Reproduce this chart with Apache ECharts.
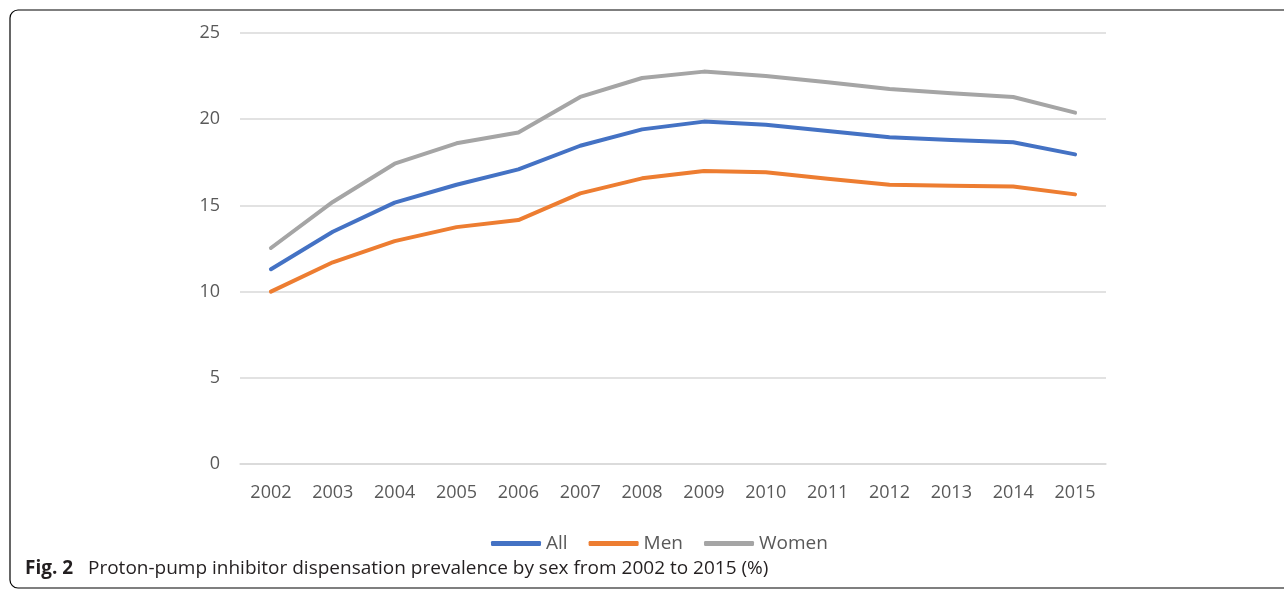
<!DOCTYPE html>
<html><head><meta charset="utf-8">
<script src="https://cdn.jsdelivr.net/npm/echarts@6/dist/echarts.min.js"></script>
<style>html,body{margin:0;padding:0;background:#fff;}#c{width:1284px;height:590px;}</style>
</head><body><div id="c"></div>
<script>
const years = ['2002','2003','2004','2005','2006','2007','2008','2009','2010','2011','2012','2013','2014','2015'];
const allVals = [11.3, 13.47, 15.16, 16.2, 17.09, 18.46, 19.41, 19.86, 19.68, 19.31, 18.95, 18.79, 18.66, 17.96];
const menVals = [10.0, 11.7, 12.93, 13.74, 14.15, 15.7, 16.57, 17.0, 16.92, 16.55, 16.2, 16.14, 16.09, 15.64];
const womenVals = [12.53, 15.2, 17.42, 18.6, 19.23, 21.29, 22.39, 22.76, 22.51, 22.14, 21.75, 21.5, 21.29, 20.38];
const yTicks = [0, 5, 10, 15, 20, 25];

const font = '"Open Sans", "Noto Sans", sans-serif';
const chart = echarts.init(document.getElementById('c'), null, {renderer: 'canvas'});
const mk = (name, data, color) => ({
  name, type: 'line', data, symbol: 'none', smooth: false,
  lineStyle: {width: 4, color, cap: 'round', join: 'round'},
  itemStyle: {color}
});
chart.setOption({
  animation: false,
  grid: {left: 240, right: 178, top: 33, bottom: 126},
  xAxis: {
    type: 'category', data: years, boundaryGap: true,
    axisLine: {show: true, lineStyle: {color: '#D9D9D9', width: 1.5}},
    axisTick: {show: false},
    axisLabel: {color: '#595959', fontSize: 18, fontFamily: font, margin: 20}
  },
  yAxis: {
    type: 'value', min: yTicks[0], max: yTicks[yTicks.length - 1], interval: 5,
    axisLine: {show: false}, axisTick: {show: false},
    splitLine: {lineStyle: {color: '#D9D9D9', width: 1.5}},
    axisLabel: {color: '#595959', fontSize: 18, fontFamily: font, margin: 20}
  },
  legend: {
    left: 491, top: 534, padding: 0, itemWidth: 50, itemHeight: 5, itemGap: 21,
    icon: 'roundRect',
    textStyle: {color: '#595959', fontSize: 19, fontFamily: font},
    data: ['All', 'Men', 'Women']
  },
  series: [
    mk('All', allVals, '#4472C4'),
    mk('Men', menVals, '#ED7D31'),
    mk('Women', womenVals, '#A5A5A5')
  ],
  graphic: [
    {type: 'rect', shape: {x: 10, y: 10, width: 1400, height: 578, r: 8},
     style: {fill: 'none', stroke: '#000', lineWidth: 1.2}, silent: true, z: 0},
    {type: 'text', left: 25, top: 559, style: {
      text: '{b|Fig. 2}   Proton-pump inhibitor dispensation prevalence by sex from 2002 to 2015 (%)',
      fontSize: 19, fontFamily: font, fill: '#231f20',
      rich: {b: {fontWeight: 'bold', fontSize: 19, fontFamily: font, fill: '#231f20'}}
    }}
  ]
});
</script></body></html>
